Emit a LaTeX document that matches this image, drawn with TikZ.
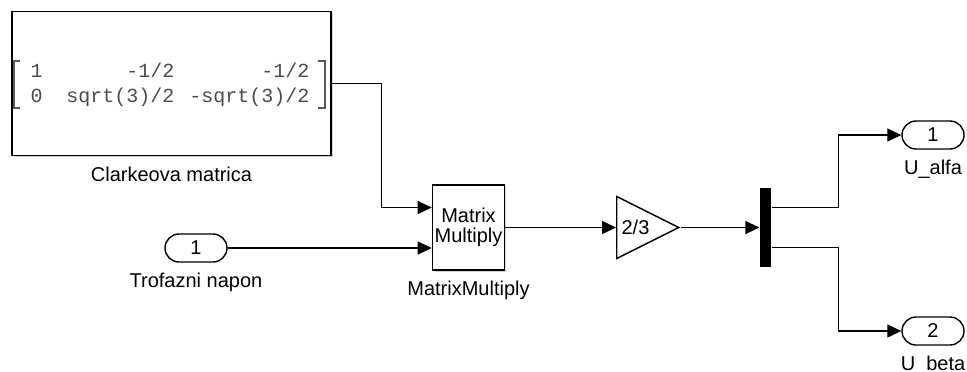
\documentclass[tikz,border=0pt]{standalone}
\usepackage{fontspec}
\setmainfont{Liberation Sans}
\setmonofont{Liberation Mono}
\usetikzlibrary{arrows.meta,positioning,shapes.geometric,shapes.misc,shadows}
\begin{document}
\begin{tikzpicture}[x=0.5pt,y=-0.5pt,line width=0.6pt,>={Triangle[length=7pt,width=6.5pt]}]
\tikzset{
  block/.style={draw,line width=0.8pt,fill=white,inner sep=0pt,
    drop shadow={shadow xshift=0.9pt,shadow yshift=-0.9pt,opacity=0.35}},
  port/.style={draw,line width=0.7pt,fill=white,rounded rectangle,
    minimum width=31pt,minimum height=14pt,inner sep=0pt},
  gain/.style={draw,line width=0.7pt,fill=white,isosceles triangle,
    isosceles triangle stretches,minimum width=31pt,minimum height=31pt,inner sep=0pt},
  bar/.style={fill=black,minimum width=5.5pt,minimum height=39.5pt,inner sep=0pt},
  lbl/.style={inner sep=0pt},
  entry/.style={inner sep=0pt,font=\ttfamily,text=black!70},
  brk/.style={line width=0.9pt,black!65},
  sig/.style={->}}
\useasboundingbox (0,0) rectangle (967,371);
% ---------- constant block ----------
\node[block,minimum width=159.5pt,minimum height=72pt] (clarke) at (171.5,83.5) {};
\node[lbl,below=5pt of clarke] (clarkelbl) {Clarkeova matrica};
\draw[brk] (20,61) -- (14,61) -- (14,108) -- (20,108);
\draw[brk] (318,61) -- (325,61) -- (325,108) -- (318,108);
\node[entry,anchor=base west] (a11) at (30,77) {1};
\node[entry,anchor=base east] (a12) at (175,77) {-1/2};
\node[entry,anchor=base east] (a13) at (310,77) {-1/2};
\node[entry,anchor=base west] (a21) at (30,102) {0};
\node[entry,anchor=base east] (a22) at (175,102) {sqrt(3)/2};
\node[entry,anchor=base east] (a23) at (310,102) {-sqrt(3)/2};
% ---------- input ----------
\node[port] (in1) at (196,248) {1};
\node[lbl,below=5pt of in1] (in1lbl) {Trofazni napon};
% ---------- product, gain, demux ----------
\node[block,minimum width=36pt,minimum height=42.5pt,align=center,
  font=\fontsize{10}{10}\selectfont] (mm) at (468.5,227.5) {Matrix\\Multiply};
\node[lbl,below=5pt of mm] (mmlbl) {MatrixMultiply};
\node[gain,anchor=west] (gn) at (616,227.5) {};
\node[lbl,anchor=west] (gntxt) at (621,227.5) {2/3};
\node[bar] (dmx) at (765.5,227.5) {};
% ---------- outputs ----------
\node[port] (out1) at (933,135) {1};
\node[lbl,below=5pt of out1] (out1lbl) {U\_alfa};
\node[port] (out2) at (933,331) {2};
\node[lbl,below=5pt of out2] (out2lbl) {U\_beta};
% ---------- signals ----------
\draw[sig] (clarke.east) -- ++(50,0) |- ([yshift=10pt]mm.west);
\draw[sig] (in1.east) -- (in1.east -| mm.west);
\draw[sig] (mm.east) -- (mm.east -| gn.west);
\draw[sig] (gn.apex) -- (dmx.west);
\draw[sig] ([yshift=10pt]dmx.east) -- ++(67,0) |- (out1.west);
\draw[sig] ([yshift=-10pt]dmx.east) -- ++(67,0) |- (out2.west);
\end{tikzpicture}
\end{document}
